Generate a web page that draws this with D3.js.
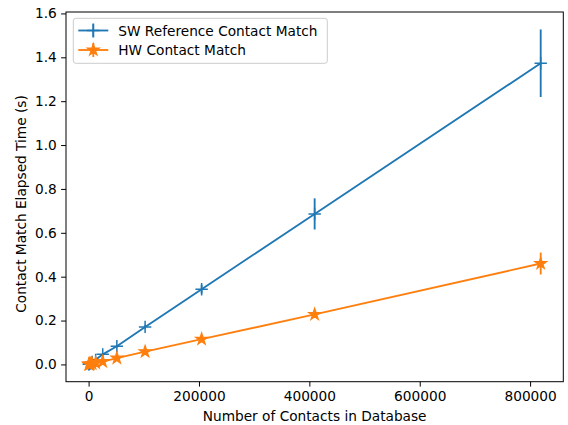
<!DOCTYPE html>
<html><head><meta charset="utf-8">
<script src="https://cdn.jsdelivr.net/npm/d3@7"></script>
<style>
body{margin:0;background:#fff;}
svg{display:block;font-family:"DejaVu Sans",sans-serif;}
</style></head>
<body><svg id="c" width="568" height="425"></svg>
<script>
const contacts = [400, 800, 1600, 3200, 6400, 12800, 25600, 51200, 102400, 204800, 409600, 819200];
const swTime   = [0.001, 0.0015, 0.003, 0.005, 0.011, 0.021, 0.046, 0.083, 0.171, 0.343, 0.686, 1.373];
const swErr    = [0.0005, 0.0005, 0.001, 0.001, 0.002, 0.003, 0.004, 0.006, 0.008, 0.02, 0.071, 0.154];
const hwTime   = [0.0005, 0.0008, 0.001, 0.002, 0.004, 0.007, 0.013, 0.029, 0.058, 0.115, 0.228, 0.460];
const hwErr    = [0.0002, 0.0002, 0.0003, 0.0005, 0.0008, 0.001, 0.002, 0.003, 0.004, 0.006, 0.01, 0.05];
const xTicks = [0, 200000, 400000, 600000, 800000];
const yTicks = [0.0, 0.2, 0.4, 0.6, 0.8, 1.0, 1.2, 1.4, 1.6];
const seriesNames = ["SW Reference Contact Match", "HW Contact Match"];
const seriesColors = ["#1f77b4", "#ff7f0e"];

const FS = 13.7;
const svg = d3.select("#c");
const L = 66, R = 563.3, T = 12, B = 381.7;
const x = d3.scaleLinear().domain([-40960, 860160]).range([L, R]);
const y = d3.scaleLinear().domain([-0.0787, 1.6065]).range([B, T]);

const series = [
  {name: seriesNames[0], color: seriesColors[0], vals: swTime, errs: swErr, marker: "plus"},
  {name: seriesNames[1], color: seriesColors[1], vals: hwTime, errs: hwErr, marker: "star"}
];

function starPath(r) {
  const ri = r * 0.381966;
  let p = [];
  for (let i = 0; i < 10; i++) {
    const rr = i % 2 === 0 ? r : ri;
    const a = -Math.PI / 2 + i * Math.PI / 5;
    p.push([rr * Math.cos(a), rr * Math.sin(a)]);
  }
  return "M" + p.map(d => d[0].toFixed(2) + "," + d[1].toFixed(2)).join("L") + "Z";
}
const MS = 6.2;
function drawMarker(g, type, color, cx, cy) {
  if (type === "plus") {
    g.append("path").attr("d", `M${cx-MS},${cy}H${cx+MS}M${cx},${cy-MS}V${cy+MS}`)
      .attr("stroke", color).attr("stroke-width", 1.5).attr("fill", "none");
  } else {
    g.append("path").attr("d", starPath(MS)).attr("transform", `translate(${cx},${cy})`)
      .attr("fill", color).attr("stroke", color).attr("stroke-width", 1.2).attr("stroke-linejoin", "miter");
  }
}

const plot = svg.append("g");
series.forEach(s => {
  const line = d3.line().x((d, i) => x(contacts[i])).y(d => y(d));
  plot.append("path").datum(s.vals).attr("d", line)
    .attr("fill", "none").attr("stroke", s.color).attr("stroke-width", 1.85).attr("stroke-linejoin", "round");
  s.vals.forEach((v, i) => {
    plot.append("line").attr("x1", x(contacts[i])).attr("x2", x(contacts[i]))
      .attr("y1", y(v - s.errs[i])).attr("y2", y(v + s.errs[i]))
      .attr("stroke", s.color).attr("stroke-width", 1.85);
  });
  s.vals.forEach((v, i) => drawMarker(plot, s.marker, s.color, x(contacts[i]), y(v)));
});

// axes
const xAxis = d3.axisBottom(x).tickValues(xTicks).tickFormat(d3.format("d")).tickSizeOuter(0).tickSize(4.9).tickPadding(5);
const yAxis = d3.axisLeft(y).tickValues(yTicks).tickFormat(d3.format(".1f")).tickSizeOuter(0).tickSize(4.9).tickPadding(4.4);
const gx = svg.append("g").attr("transform", `translate(0,${B})`).call(xAxis);
const gy = svg.append("g").attr("transform", `translate(${L},0)`).call(yAxis);
[gx, gy].forEach(g => {
  g.select(".domain").remove();
  g.selectAll("text").attr("font-size", FS).attr("fill", "#000").attr("font-family", "DejaVu Sans");
  g.selectAll("line").attr("stroke", "#000").attr("stroke-width", 1);
});
svg.append("rect").attr("x", L).attr("y", T).attr("width", R - L).attr("height", B - T)
  .attr("fill", "none").attr("stroke", "#000").attr("stroke-width", 1);

svg.append("text").attr("x", (L + R) / 2).attr("y", 420.5).attr("text-anchor", "middle")
  .attr("font-size", FS).text("Number of Contacts in Database");
svg.append("text").attr("transform", `translate(25.5,204) rotate(-90)`).attr("text-anchor", "middle")
  .attr("font-size", FS).text("Contact Match Elapsed Time (s)");

// legend
const lg = svg.append("g");
lg.append("rect").attr("x", 73.3).attr("y", 18.3).attr("width", 254).attr("height", 45).attr("rx", 2.5)
  .attr("fill", "#fff").attr("fill-opacity", 0.8).attr("stroke", "#cccccc").attr("stroke-width", 1);
series.forEach((s, i) => {
  const cy = 30.5 + i * 19.5;
  lg.append("line").attr("x1", 78.3).attr("x2", 108.3).attr("y1", cy).attr("y2", cy)
    .attr("stroke", s.color).attr("stroke-width", 1.85);
  lg.append("line").attr("x1", 93.3).attr("x2", 93.3).attr("y1", cy - 7).attr("y2", cy + 7)
    .attr("stroke", s.color).attr("stroke-width", 1.85);
  drawMarker(lg, s.marker, s.color, 93.3, cy);
  lg.append("text").attr("x", 118.3).attr("y", cy + 5).attr("font-size", FS).text(s.name);
});
</script></body></html>
